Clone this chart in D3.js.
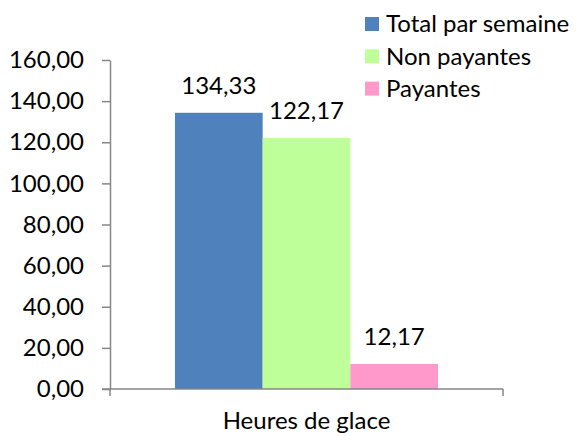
<!DOCTYPE html>
<html><head><meta charset="utf-8">
<script src="https://cdn.jsdelivr.net/npm/d3@7"></script>
<style>body{margin:0;background:#fff}svg{display:block}text{font-family:Lato,"Open Sans",sans-serif;fill:#000}</style>
</head><body><svg id="c" width="581" height="436"></svg>
<script>
const categories = ["Heures de glace"];
const seriesNames = ["Total par semaine", "Non payantes", "Payantes"];
const seriesValues = [134.33, 122.17, 12.17];
const seriesColors = ["#4F81BD", "#BFFF99", "#FF99CC"];
const yTicks = [0, 20, 40, 60, 80, 100, 120, 140, 160];

const svg = d3.select("#c");
const fmt = v => d3.format(".2f")(v).replace(".", ",");
const y = d3.scaleLinear().domain([0, 160]).range([389, 60]);
const x0 = d3.scaleBand().domain(categories).range([110, 503]).paddingInner(0).paddingOuter(0.247);
const x1 = d3.scaleBand().domain(seriesNames).range([0, x0.bandwidth()]).padding(0);
const axisColor = "#868686";
const fs = 24;

// y axis
const ya = svg.append("g").attr("transform", "translate(110,0)")
  .call(d3.axisLeft(y).tickValues(yTicks).tickFormat(fmt).tickSize(8).tickSizeOuter(0).tickPadding(18));
ya.select(".domain").attr("stroke", axisColor).attr("stroke-width", 1.5);
ya.selectAll(".tick line").attr("stroke", axisColor).attr("stroke-width", 1.5);
ya.selectAll(".tick text").attr("font-size", fs).attr("font-family", "Lato").attr("fill", "#000");

// bars
const g = svg.append("g");
categories.forEach(cat => {
  seriesNames.forEach((s, i) => {
    const xb = x0(cat) + x1(s);
    g.append("rect").attr("x", xb).attr("y", y(seriesValues[i]))
      .attr("width", x1.bandwidth()).attr("height", y(0) - y(seriesValues[i]))
      .attr("fill", seriesColors[i]);
    g.append("text").attr("x", xb + x1.bandwidth() / 2).attr("y", y(seriesValues[i]) - 19)
      .attr("text-anchor", "middle").attr("font-size", fs).text(fmt(seriesValues[i]));
  });
});

// x axis
const [xr0, xr1] = x0.range();
svg.append("line").attr("x1", xr0 - 8).attr("x2", xr1).attr("y1", y(0)).attr("y2", y(0)).attr("stroke", axisColor).attr("stroke-width", 1.5);
[xr0, xr1].forEach(xx => svg.append("line").attr("x1", xx).attr("x2", xx).attr("y1", y(0)).attr("y2", y(0) + 7).attr("stroke", axisColor).attr("stroke-width", 1.5));
categories.forEach(cat => {
  svg.append("text").attr("x", x0(cat) + x0.bandwidth() / 2).attr("y", 429)
    .attr("text-anchor", "middle").attr("font-size", fs).text(cat);
});

// legend
const lg = svg.append("g").attr("transform", "translate(365,0)");
seriesNames.forEach((s, i) => {
  const cy = 24 + i * 32.3;
  lg.append("rect").attr("x", 0).attr("y", cy - 7).attr("width", 14).attr("height", 14).attr("fill", seriesColors[i]);
  lg.append("text").attr("x", 21).attr("y", cy).attr("dy", "0.35em").attr("font-size", fs).text(s);
});
</script></body></html>
